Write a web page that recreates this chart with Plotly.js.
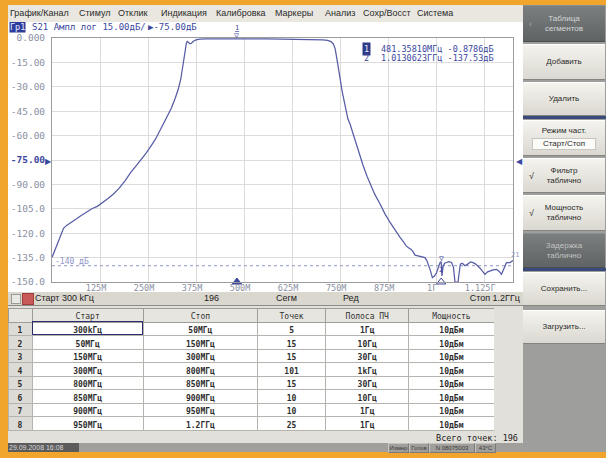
<!DOCTYPE html>
<html><head><meta charset="utf-8">
<script src="https://cdn.plot.ly/plotly-3.0.1.min.js"></script>
<style>
html,body{margin:0;padding:0;width:606px;height:458px;overflow:hidden;background:#f1a52c;font-family:"Liberation Sans",Arial,sans-serif;}
.a{position:absolute;}
#menubar{left:8px;top:5px;width:515px;height:17px;background:#e9e7e0;}
.menu{position:absolute;top:3px;font-size:9px;color:#2a2a2a;white-space:nowrap;}
#chart{left:8px;top:22px;width:515px;height:270px;background:#fff;}
#status{left:8px;top:292px;width:515px;height:13px;background:#dad7cf;border-bottom:1px solid #8d8b85;}
.st{position:absolute;top:1px;font-size:9px;color:#222;white-space:nowrap;}
#tablebg{left:8px;top:306px;width:515px;height:137px;background:#e2e0da;}
#table{left:8px;top:308px;width:486px;height:124px;}
#bottom{left:8px;top:443px;width:515px;height:9px;background:#a09f9b;}
.bx{position:absolute;top:0;height:8px;font-size:6px;line-height:8px;color:#3a3a3a;border:1px solid #c4c3bf;border-right-color:#7a7a7a;border-bottom-color:#7a7a7a;text-align:center;white-space:nowrap;overflow:hidden;}
#panel{left:523px;top:5px;width:83px;height:447px;background:#9e9e9c;}
.btn{position:absolute;left:0;width:82px;display:flex;align-items:center;justify-content:center;text-align:center;font-size:8px;line-height:10px;color:#2a2a2a;background:linear-gradient(#f4f3ee,#dad8d0);border-top:1px solid #fff;border-bottom:1px solid #858580;box-sizing:border-box;}
.dark{background:linear-gradient(#7b7f7f,#5f6363);color:#d4d8d8;border-top:1px solid #8a8e8e;border-bottom:1px solid #4a4e4e;}
.sep{position:absolute;left:0;width:83px;height:3px;background:#3a4a7c;}
.chk{position:absolute;left:6px;font-size:9px;color:#333;}
</style></head>
<body>
<div id="menubar" class="a">
  <span class="menu" style="left:2px">График/Канал</span>
  <span class="menu" style="left:71px">Стимул</span>
  <span class="menu" style="left:110px">Отклик</span>
  <span class="menu" style="left:153px">Индикация</span>
  <span class="menu" style="left:208px">Калибровка</span>
  <span class="menu" style="left:267px">Маркеры</span>
  <span class="menu" style="left:317px">Анализ</span>
  <span class="menu" style="left:355px">Сохр/Восст</span>
  <span class="menu" style="left:409px">Система</span>
</div>
<div id="chart" class="a"></div>
<div id="status" class="a">
  <div class="a" style="left:3px;top:2px;width:8px;height:8px;background:#e8e8e4;border:1px solid #9a9a96;"></div>
  <div class="a" style="left:14px;top:1px;width:10px;height:10px;background:#c95a5a;border:1px solid #a03c3c;"></div>
  <span class="st" style="left:27px">Старт 300 kГц</span>
  <span class="st" style="left:196px">196</span>
  <span class="st" style="left:268px">Сегм</span>
  <span class="st" style="left:335px">Ред</span>
  <span class="st" style="right:3px">Стоп 1.2ГГц</span>
</div>
<div id="tablebg" class="a">
  <span class="a" style="right:5px;top:128px;font-family:'DejaVu Sans Mono',monospace;font-size:8.5px;line-height:9px;color:#222;">Всего точек: 196</span>
</div>
<div id="table" class="a"></div>
<div class="a" style="left:32px;top:321px;width:109px;height:12px;border:1px solid #2e2e6e;pointer-events:none;"></div>
<div id="bottom" class="a">
  <div class="a" style="left:0;top:0;width:70px;height:9px;background:#5c5c5c;color:#d8d8d8;font-size:7px;line-height:9px;padding-left:1px;">29.09.2008 16:08</div>
  <div class="bx" style="left:380px;width:19px;">Измер</div>
  <div class="bx" style="left:401px;width:18px;">Готов</div>
  <div class="bx" style="left:421px;width:44px;">N 08075003</div>
  <div class="bx" style="left:467px;width:19px;">43°C</div>
</div>
<div id="panel" class="a">
  <div class="btn dark" style="top:0;height:37px;"><span style="position:absolute;left:6px;color:#a8acac;font-size:9px;">‹</span>Таблица<br>сегментов</div>
  <div class="btn" style="top:39px;height:36px;">Добавить</div>
  <div class="btn" style="top:77px;height:34px;">Удалить</div>
  <div class="sep" style="top:111px;"></div>
  <div class="btn" style="top:115px;height:36px;flex-direction:column;">Режим част.<div style="margin-top:2px;width:62px;height:10px;background:#fbfbf8;border:1px solid #c8c6be;font-size:8px;line-height:10px;">Старт/Стоп</div></div>
  <div class="btn" style="top:153px;height:35px;"><span class="chk">√</span>Фильтр<br>таблично</div>
  <div class="btn" style="top:190px;height:36px;"><span class="chk">√</span>Мощность<br>таблично</div>
  <div class="btn dark" style="top:228px;height:35px;color:#c0c4c4;">Задержка<br>таблично</div>
  <div class="sep" style="top:263px;"></div>
  <div class="btn" style="top:267px;height:34px;">Сохранить...</div>
  <div class="btn" style="top:305px;height:34px;">Загрузить...</div>
</div>
<script>
// ---- trace data (frequency in MHz, S21 in dB) ----
const freqMHz = [0.3,10,20,30,38,45,55,65,75,90,105,118,130,145,160,175,190,205,220,230,245,260,270,285,300,310,320,328,335,340,344,347,349.5,352,355,359,363,368,375,385,400,430,460,481.36,500,530,560,600,640,680,705,718,726,732,737,741,745,750,755,762,770,776,785,795,802,810,820,828,840,854,866,880,893,906,915,922,928,935,940,945,950,958,965,971,976,980,985,990,995,1001,1006,1010,1013.06,1015,1018,1022,1027,1033,1040,1045,1049,1057,1060,1063,1068,1075,1082,1090,1096,1103,1113,1120,1127,1134,1140,1148,1157,1164,1170,1176,1183,1192,1200];
const s21dB = [-134.8,-129,-122.5,-117,-115.2,-114.2,-112.5,-111,-109.3,-106.8,-104.8,-103.5,-101.6,-98.8,-95.9,-92.3,-87.8,-82.6,-78.3,-75.3,-70.8,-65.5,-61.9,-55,-48,-43.5,-37.5,-32,-25.5,-19,-12.5,-7.5,-3.3,-2.1,-2.6,-3.6,-3.2,-2.0,-1.2,-0.7,-0.5,-0.6,-0.7,-0.88,-0.7,-0.6,-0.5,-0.6,-0.9,-1.0,-1.2,-1.5,-2.2,-3.5,-6.5,-12,-17,-25,-32.5,-41,-49.5,-53,-60,-68,-73.3,-78.5,-85,-89.7,-96,-102,-107.8,-113.4,-118.2,-122.6,-125.4,-127.8,-129,-130,-131.5,-133.5,-133.8,-134.2,-134.8,-135,-137,-139.5,-143,-147.3,-146.5,-144.3,-141,-138.1,-137.53,-146.3,-140.5,-138.5,-138,-137.5,-138,-141,-150,-150,-144,-139,-138.5,-140,-139,-137.6,-138.1,-139,-141.2,-143.5,-145.3,-143.8,-143.2,-142.5,-142.2,-143.5,-145.3,-142,-138.1,-138.1,-136.8];

// axes
const xTickVals = [125,250,375,500,625,750,875,1000,1125];
const xTickText = ['125M','250M','375M','500M','625M','750M','875M','1Г','1.125Г'];
const yTickVals = [0,-15,-30,-45,-60,-75,-90,-105,-120,-135,-150];
const yTickText = ['0.000','-15.00','-30.00','-45.00','-60.00','-75.00','-90.00','-105.0','-120.0','-135.0','-150.0'];
const xRange = [0,1200];
const yRange = [-150,0];
const refLevel = -75;
const limitLevel = -140;

// markers
const markerNames = ['1','2'];
const markerFreqMHz = [481.35810,1013.0623];
const markerDb = [-0.8786,-137.53];
const markerReadout = ['481.35810МГц -0.8786дБ','1.0130623ГГц -137.53дБ'];

// segment table
const segIdx = ['1','2','3','4','5','6','7','8'];
const segStart = ['300kГц','50МГц','150МГц','300МГц','800МГц','850МГц','900МГц','950МГц'];
const segStop = ['50МГц','150МГц','300МГц','800МГц','850МГц','900МГц','950МГц','1.2ГГц'];
const segPoints = ['5','15','15','101','15','10','10','25'];
const segIFBW = ['1Гц','10Гц','30Гц','1kГц','30Гц','10Гц','1Гц','1Гц'];
const segPower = ['10дБм','10дБм','10дБм','10дБм','10дБм','10дБм','10дБм','10дБм'];
const tableHeader = ['','Старт','Стоп','Точек','Полоса ПЧ','Мощность'];

const traceColor = '#575ca6';
const mono = 'DejaVu Sans Mono, monospace';
const labelColor = '#8a90a2';
const blue = '#3c479e';

const W = 515, H = 270, M = {l:43.5, r:10, t:16, b:10.3};
const PW = W - M.l - M.r, PH = H - M.t - M.b;
const px = ax => (ax - 8 - M.l) / PW;
const py = ay => 1 - (ay - 22 - M.t) / PH;

const yText = yTickText.map((t,i)=> yTickVals[i]===refLevel ? '<b><span style="color:'+blue+'">'+t+'</span></b>' : t);

const traces = [
  {x: xRange, y: [limitLevel, limitLevel], mode:'lines', line:{color:'#8f95c6', width:1, dash:'dot'}, hoverinfo:'skip'},
  {x: freqMHz, y: s21dB, mode:'lines', line:{color:traceColor, width:1.25}, cliponaxis:true},
  // stimulus marker indicators sitting on the frequency axis (active = filled)
  {x: markerFreqMHz, y: markerFreqMHz.map(()=>yRange[0]), mode:'markers', cliponaxis:false, hoverinfo:'skip',
   marker:{symbol:['triangle-up','triangle-up-open'], size:8, color:blue, line:{color:blue, width:1}}}
];

const ann = [];
// header line
ann.push({xref:'paper', yref:'paper', x:px(8), y:py(27), xanchor:'left', yanchor:'middle', text:'Гр1', showarrow:false, bgcolor:'#2e3c9e', borderpad:0, font:{family:mono, size:8.5, color:'#e8ecff'}});
ann.push({xref:'paper', yref:'paper', x:px(29), y:py(27), xanchor:'left', yanchor:'middle', text:'S21 Ампл лог 15.00дБ/', showarrow:false, font:{family:mono, size:9, color:blue}});
ann.push({xref:'paper', yref:'paper', x:px(146), y:py(27), xanchor:'left', yanchor:'middle', text:'▶'+refLevel.toFixed(2)+'дБ', showarrow:false, font:{family:mono, size:9, color:blue}});
// marker readouts
markerNames.forEach((m,i)=>{
  const yy = py(49 + i*9);
  ann.push({xref:'paper', yref:'paper', x:px(362), y:yy, xanchor:'left', yanchor:'middle', text:m, showarrow:false, bgcolor: i===0?'#2e3a86':'rgba(0,0,0,0)', font:{family:mono, size:8.5, color: i===0?'#e8ecff':blue}});
  ann.push({xref:'paper', yref:'paper', x:px(379), y:yy, xanchor:'left', yanchor:'middle', text:markerReadout[i], showarrow:false, font:{family:mono, size:8.5, color:blue}});
});
// marker 1 symbol at top
ann.push({xref:'x', yref:'paper', x:markerFreqMHz[0], y:py(28.5), xanchor:'center', yanchor:'middle', text:'<u>'+markerNames[0]+'</u>', showarrow:false, font:{family:mono, size:7, color:blue}});
ann.push({xref:'x', yref:'y', x:markerFreqMHz[0], y:markerDb[0], xanchor:'center', yanchor:'bottom', yshift:-3, text:'▽', showarrow:false, font:{family:mono, size:8, color:blue}});
// marker 2 symbol
ann.push({xref:'x', yref:'y', x:markerFreqMHz[1], y:markerDb[1], xanchor:'center', yanchor:'bottom', yshift:-3, text:'▽', showarrow:false, font:{family:mono, size:8, color:blue}});
ann.push({xref:'x', yref:'y', x:markerFreqMHz[1], y:markerDb[1], xanchor:'center', yanchor:'top', yshift:-2, text:markerNames[1], showarrow:false, font:{family:mono, size:7, color:blue}});
// reference level pointers
ann.push({xref:'x', yref:'y', x:xRange[0], y:refLevel, xanchor:'right', yanchor:'middle', xshift:2, text:'▶', showarrow:false, font:{size:8, color:blue}});
ann.push({xref:'x', yref:'y', x:xRange[1], y:refLevel, xanchor:'left', yanchor:'middle', xshift:1, text:'◀', showarrow:false, font:{size:8, color:blue}});
// limit line label
ann.push({xref:'x', yref:'y', x:xRange[0], y:limitLevel, xanchor:'left', yanchor:'bottom', xshift:1, yshift:-2, text:limitLevel+' дБ', showarrow:false, font:{family:mono, size:8, color:'#8f95c6'}});
// trace label at right end
ann.push({xref:'x', yref:'y', x:xRange[1], y:s21dB[s21dB.length-1], xanchor:'center', yanchor:'bottom', xshift:2, text:'21', showarrow:false, font:{family:mono, size:7, color:'#8f95c6'}});

const layout = {
  width:W, height:H, margin:M, paper_bgcolor:'#fff', plot_bgcolor:'#fff', showlegend:false,
  xaxis:{range:xRange, tickvals:xTickVals, ticktext:xTickText, showgrid:true, gridcolor:'#dcdcdc', gridwidth:1,
         showline:true, linecolor:'#9c9c9c', linewidth:1, mirror:true, ticks:'', zeroline:false,
         tickfont:{family:mono, size:8.5, color:labelColor}, ticklabelshift:-4, ticklabelstandoff:-2, fixedrange:true},
  yaxis:{range:yRange, tickvals:yTickVals, ticktext:yText, showgrid:true, gridcolor:'#dcdcdc', gridwidth:1,
         showline:true, linecolor:'#9c9c9c', linewidth:1, mirror:true, ticks:'', zeroline:false,
         tickfont:{family:mono, size:9.5, color:labelColor}, ticklabelstandoff:4, fixedrange:true},
  annotations:ann
};
Plotly.newPlot('chart', traces, layout, {staticPlot:true, displayModeBar:false});

// segment table
const white = segIdx.map(()=> '#ffffff');
const grey = segIdx.map(()=> '#dddbd5');
Plotly.newPlot('table', [{
  type:'table',
  columnwidth:[24,111,114,68,83,85],
  header:{values:tableHeader, height:14, align:'center', fill:{color:'#e6e5e0'}, line:{color:'#9e9d98', width:1},
          font:{family:mono, size:8, color:'#333'}},
  cells:{values:[segIdx, segStart, segStop, segPoints, segIFBW, segPower], height:13.5, align:'center',
         fill:{color:[grey, white, white, white, white, white]}, line:{color:'#b4b3ae', width:1},
         font:{family:mono, size:8, color:'#2e2e2e', weight:'bold'}}
}], {width:486, height:124, margin:{l:0,r:0,t:0,b:0}, paper_bgcolor:'rgba(0,0,0,0)'}, {staticPlot:true, displayModeBar:false})
.then(()=>{
  // centre the cell texts vertically inside their rows
  document.querySelectorAll('#table .cell-text').forEach(el=>{ el.style.transform='translateY(-3px)'; });
});
</script>
</body></html>
